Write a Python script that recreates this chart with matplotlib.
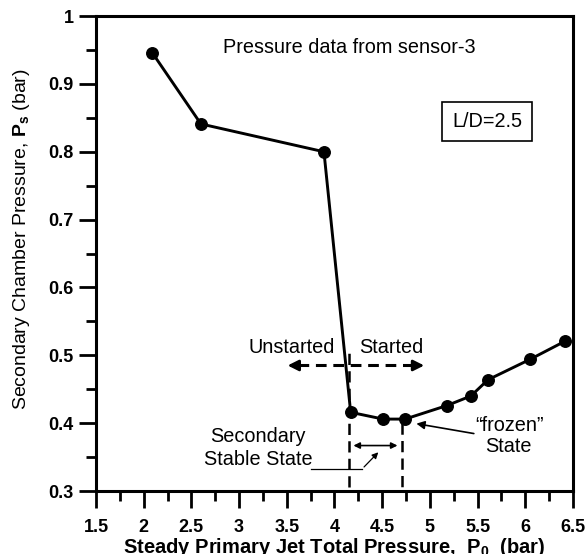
import numpy as np
import matplotlib
matplotlib.use('Agg')
from matplotlib import pyplot as plt
from matplotlib.ticker import MultipleLocator

plt.rcParams['font.family'] = ['Liberation Sans', 'DejaVu Sans']
plt.rcParams['mathtext.fontset'] = 'custom'
plt.rcParams['mathtext.rm'] = 'Liberation Sans'
plt.rcParams['mathtext.bf'] = 'Liberation Sans:bold'

# sensor-3 secondary chamber pressure vs primary jet total pressure
p0 = [2.09, 2.6, 3.89, 4.17, 4.51, 4.74, 5.18, 5.43, 5.61, 6.05, 6.42]
ps = [0.946, 0.841, 0.800, 0.416, 0.406, 0.406, 0.426, 0.440, 0.464, 0.494, 0.521]

p_start = 4.15    # unstarted / started boundary
p_frozen = 4.71   # end of secondary stable state

fig = plt.figure(figsize=(5.87, 5.54), dpi=100)
ax = fig.add_axes([0.1635, 0.1137, 0.8125, 0.8573])

ax.plot(p0, ps, 'k-', lw=2.1, marker='o', markersize=8.3)

ax.set_xlim(1.5, 6.5)
ax.set_ylim(0.3, 1.0)
ax.xaxis.set_minor_locator(MultipleLocator(0.25))
ax.yaxis.set_minor_locator(MultipleLocator(0.05))
ax.set_xticks(np.arange(1.5, 6.51, 0.5))
ax.set_xticklabels(['1.5', '2', '2.5', '3', '3.5', '4', '4.5', '5', '5.5', '6', '6.5'])
ax.set_yticks(np.arange(0.3, 1.01, 0.1))
ax.set_yticklabels(['0.3', '0.4', '0.5', '0.6', '0.7', '0.8', '0.9', '1'])
ax.tick_params(which='major', direction='out', length=12, width=2, labelsize=13)
ax.tick_params(axis='x', which='major', pad=8.5)
ax.tick_params(axis='y', which='major', pad=4)
ax.tick_params(which='minor', direction='out', length=7.5, width=2)
for lab in ax.get_xticklabels() + ax.get_yticklabels():
    lab.set_fontweight('bold')
for sp in ax.spines.values():
    sp.set_linewidth(2.2)

ax.set_xlabel(r'Steady Primary Jet Total Pressure,  P$_{\mathbf{0}}$  (bar)',
              fontsize=14.5, fontweight='bold', labelpad=0)
ax.set_ylabel(r'Secondary Chamber Pressure, $\mathbf{P_s}$ (bar)',
              fontsize=14, labelpad=8)
ax.yaxis.set_label_coords(-0.135, 0.53)

ax.text(4.16, 0.953, 'Pressure data from sensor-3', fontsize=14.3, ha='center', va='center')
ax.text(5.6, 0.844, 'L/D=2.5', fontsize=14.3, ha='center', va='center',
        bbox=dict(boxstyle='square,pad=0.5', fc='white', ec='k', lw=1.2))

# started / unstarted boundary
ax.plot([p_start, p_start], [0.306, 0.512], 'k--', lw=1.8, dashes=(4.5, 2.5))
ax.plot([p_frozen, p_frozen], [0.40, 0.3], 'k--', lw=1.8, dashes=(4.5, 2.5))
ax.plot([3.62, 4.83], [0.485, 0.485], 'k--', lw=2.2, dashes=(3.5, 2.2))
for tip, tail in [(3.48, 3.66), (4.97, 4.79)]:
    ax.annotate('', xy=(tip, 0.485), xytext=(tail, 0.485),
                arrowprops=dict(arrowstyle='-|>', color='k', lw=2, mutation_scale=16))
ax.text(3.55, 0.511, 'Unstarted', fontsize=14.3, ha='center', va='center')
ax.text(4.6, 0.511, 'Started', fontsize=14.3, ha='center', va='center')

# secondary stable state span
ax.annotate('', xy=(p_start + 0.02, 0.367), xytext=(p_frozen - 0.02, 0.367),
            arrowprops=dict(arrowstyle='<|-|>', color='k', lw=1.2, mutation_scale=9))
ax.text(3.2, 0.381, 'Secondary', fontsize=14.3, ha='center', va='center')
ax.text(3.2, 0.347, 'Stable State', fontsize=14.3, ha='center', va='center')
ax.plot([3.75, 4.29], [0.3325, 0.3325], 'k-', lw=0.9)
ax.annotate('', xy=(4.48, 0.36), xytext=(4.29, 0.3325),
            arrowprops=dict(arrowstyle='-|>', color='k', lw=0.9, mutation_scale=9))

# frozen state pointer
ax.text(5.84, 0.397, '\u201cfrozen\u201d', fontsize=14.3, ha='center', va='center')
ax.text(5.82, 0.365, 'State', fontsize=14.3, ha='center', va='center')
ax.annotate('', xy=(4.83, 0.40), xytext=(5.49, 0.384),
            arrowprops=dict(arrowstyle='-|>', color='k', lw=1.2, mutation_scale=12))

plt.savefig('out.png', dpi=100)
plt.close()
